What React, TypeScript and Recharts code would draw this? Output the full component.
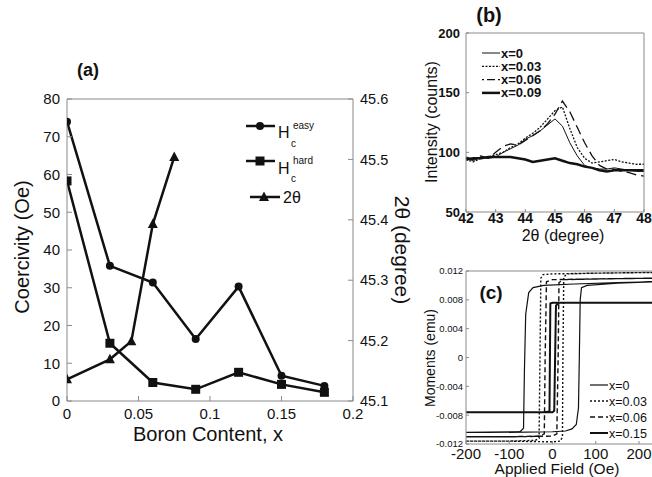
import React from "react"
import { Legend, Line, LineChart, XAxis, YAxis } from "recharts"

// (a) coercivity and 2θ peak vs boron content
const boron = [0, 0.03, 0.06, 0.09, 0.12, 0.15, 0.18]
const hcEasy = [74, 35.8, 31.4, 16.4, 30.3, 6.7, 4.0]
const hcHard = [58.3, 15.3, 4.9, 3.1, 7.6, 4.4, 2.3]
const boronTheta = [0, 0.03, 0.045, 0.06, 0.075]
const peakTheta = [45.136, 45.169, 45.199, 45.393, 45.504]
const boronTicks = [0, 0.05, 0.1, 0.15, 0.2]
const coerTicks = [0, 10, 20, 30, 40, 50, 60, 70, 80]
const thetaTicks = [45.1, 45.2, 45.3, 45.4, 45.5, 45.6]

// (b) XRD scans
const twoTheta = [42, 42.25, 42.5, 42.75, 43, 43.25, 43.5, 43.75, 44, 44.25, 44.5, 44.75, 45, 45.25, 45.5, 45.75, 46, 46.25, 46.5, 46.75, 47, 47.25, 47.5, 47.75, 48]
const int0 = [95, 93, 96, 95, 96, 100, 103, 106, 111, 114, 118, 123, 128, 122, 108, 97, 89, 87, 86, 86, 87, 86, 85, 84, 84]
const int003 = [94, 92, 95, 96, 98, 100, 104, 107, 112, 116, 121, 128, 135, 138, 120, 104, 95, 91, 92, 93, 94, 92, 91, 90, 90]
const int006 = [96, 94, 97, 95, 100, 105, 107, 106, 110, 114, 118, 124, 132, 143, 134, 121, 108, 97, 89, 86, 86, 84, 83, 81, 80]
const int009 = [94, 95, 95, 96, 96, 96, 96, 95, 94, 92, 93, 94, 95, 93, 91, 90, 88, 87, 85, 84, 85, 85, 85, 85, 85]
const thetaMinor = [42, 42.25, 42.5, 42.75, 43, 43.25, 43.5, 43.75, 44, 44.25, 44.5, 44.75, 45, 45.25, 45.5, 45.75, 46, 46.25, 46.5, 46.75, 47, 47.25, 47.5, 47.75, 48]
const thetaMajor = [42, 43, 44, 45, 46, 47, 48]
const intTicks = [50, 100, 150, 200]

// (c) hysteresis loops (field Oe, moment emu), lower branch then upper branch
const field0 = [-200, -100, 0, 30, 45, 55, 60, 62, 64, 67, 80, 150, 230, 230, 150, 50, -20, -45, -55, -62, -65, -67, -75, -200]
const moment0 = [-0.0104, -0.0104, -0.0103, -0.0102, -0.0099, -0.0093, -0.007, 0, 0.008, 0.0097, 0.01, 0.0103, 0.0105, 0.0105, 0.0104, 0.0102, 0.01, 0.0097, 0.009, 0.006, -0.002, -0.0098, -0.0103, -0.0104]
const field003 = [-200, -100, 0, 18, 23, 24, 26, 35, 100, 230, 230, 100, 0, -22, -27, -29, -31, -40, -100, -200]
const moment003 = [-0.0116, -0.0116, -0.0117, -0.0116, -0.011, 0, 0.0112, 0.0116, 0.0117, 0.0118, 0.0118, 0.0117, 0.0116, 0.0115, 0.011, 0, -0.0112, -0.0115, -0.0116, -0.0116]
const field006 = [-200, -100, 0, 10, 13, 15, 25, 100, 230, 230, 100, 0, -14, -17, -19, -30, -100, -200]
const moment006 = [-0.011, -0.011, -0.0109, -0.0106, 0, 0.0104, 0.0108, 0.0109, 0.011, 0.011, 0.0109, 0.0108, 0.0105, 0, -0.0106, -0.0109, -0.011, -0.011]
const field015 = [-200, -100, 0, 4, 6, 8, 15, 100, 230, 230, 100, 0, -5, -6, -7, -20, -100, -200]
const moment015 = [-0.0076, -0.0076, -0.0076, -0.0074, 0, 0.0072, 0.0076, 0.0076, 0.0076, 0.0076, 0.0076, 0.0076, 0.0075, 0, -0.0075, -0.0076, -0.0076, -0.0076]
const fieldTicks = [-200, -100, 0, 100, 200]
const fieldMinor = [-200, -150, -100, -50, 0, 50, 100, 150, 200]
const momentTicks = [-0.012, -0.008, -0.004, 0, 0.004, 0.008, 0.012]

const zip = (xs: number[], ys: number[]) => xs.map((x, i) => ({ x, y: ys[i] }))

const easyData = zip(boron, hcEasy)
const hardData = zip(boron, hcHard)
const thetaData = zip(boronTheta, peakTheta)
const xrdData = twoTheta.map((t, i) => ({ t, a: int0[i], b: int003[i], c: int006[i], d: int009[i] }))
const loop0 = zip(field0, moment0)
const loop003 = zip(field003, moment003)
const loop006 = zip(field006, moment006)
const loop015 = zip(field015, moment015)

const INK = "#111"
const AXIS = "#8a8a8a"

const dotCircle = (p: any) => <circle key={`c${p.index}`} cx={p.cx} cy={p.cy} r={4} fill={INK} />
const dotSquare = (p: any) => (
  <rect key={`s${p.index}`} x={p.cx - 4.5} y={p.cy - 4.5} width={9} height={9} fill={INK} />
)
const dotTriangle = (p: any) => (
  <polygon
    key={`t${p.index}`}
    points={`${p.cx},${p.cy - 5.5} ${p.cx - 5},${p.cy + 4} ${p.cx + 5},${p.cy + 4}`}
    fill={INK}
  />
)

function LegendA() {
  return (
    <svg width={100} height={95} style={{ display: "block", overflow: "visible" }}>
      <line x1={6} y1={11} x2={35} y2={11} stroke={INK} strokeWidth={2.5} />
      <circle cx={20} cy={11} r={4} fill={INK} />
      <text x={38} y={23} fontSize={16} fill={INK}>H</text>
      <text x={51} y={32} fontSize={10} fill={INK}>c</text>
      <text x={53} y={14} fontSize={10} fill={INK}>easy</text>
      <line x1={6} y1={46} x2={35} y2={46} stroke={INK} strokeWidth={2.5} />
      <rect x={15.5} y={41.5} width={9} height={9} fill={INK} />
      <text x={38} y={59} fontSize={16} fill={INK}>H</text>
      <text x={51} y={67} fontSize={10} fill={INK}>c</text>
      <text x={53} y={49} fontSize={10} fill={INK}>hard</text>
      <line x1={10} y1={82} x2={40} y2={82} stroke={INK} strokeWidth={2.5} />
      <polygon points="24,76.5 19,86 29,86" fill={INK} />
      <text x={43} y={88} fontSize={16} fill={INK}>2θ</text>
    </svg>
  )
}

const xrdStyles = [
  { label: "x=0", width: 1, dash: undefined },
  { label: "x=0.03", width: 1.3, dash: "2 1.5" },
  { label: "x=0.06", width: 1.3, dash: "2 3 8 3" },
  { label: "x=0.09", width: 2.5, dash: undefined },
]

function LegendB() {
  return (
    <svg width={100} height={56} style={{ display: "block", overflow: "visible" }}>
      {xrdStyles.map((s, i) => {
        const y = 8 + i * 13.3
        return (
          <g key={s.label}>
            <line x1={4} y1={y} x2={22} y2={y} stroke={INK} strokeWidth={s.width} strokeDasharray={s.dash} />
            <text x={23} y={y + 4.5} fontSize={13} fontWeight="bold" fill={INK}>{s.label}</text>
          </g>
        )
      })}
    </svg>
  )
}

const loopStyles = [
  { label: "x=0", width: 1.2, dash: undefined },
  { label: "x=0.03", width: 1.4, dash: "2 2" },
  { label: "x=0.06", width: 1.4, dash: "5 3" },
  { label: "x=0.15", width: 2, dash: undefined },
]

function LegendC() {
  return (
    <svg width={66} height={66} style={{ display: "block", overflow: "visible" }}>
      {loopStyles.map((s, i) => {
        const y = 9 + i * 16
        return (
          <g key={s.label}>
            <line x1={4} y1={y} x2={22} y2={y} stroke={INK} strokeWidth={s.width} strokeDasharray={s.dash} />
            <text x={23} y={y + 4.5} fontSize={12.5} fill={INK}>{s.label}</text>
          </g>
        )
      })}
    </svg>
  )
}

function Title({ x, y, size, text, rotate = 0, bold = false }: any) {
  return (
    <div
      style={{
        position: "absolute",
        left: x,
        top: y,
        transform: `translate(-50%, -50%) rotate(${rotate}deg)`,
        fontSize: size,
        fontWeight: bold ? "bold" : "normal",
        whiteSpace: "nowrap",
        lineHeight: 1,
        color: INK,
      }}
    >
      {text}
    </div>
  )
}

const fmtMoment = (v: number) => (v === 0 ? "0" : String(v))
const blank = () => ""

export default function App() {
  return (
    <div
      style={{
        position: "absolute",
        left: 0,
        top: 0,
        width: 652,
        height: 477,
        background: "#fff",
        overflow: "hidden",
        fontFamily: '"Liberation Sans", Arial, sans-serif',
      }}
    >
      {/* (a) */}
      <div style={{ position: "absolute", left: 0, top: 0 }}>
        <LineChart width={430} height={450} margin={{ top: 98, right: 0, bottom: 0, left: 0 }}>
          <XAxis
            xAxisId="bottom"
            dataKey="x"
            type="number"
            domain={[0, 0.2]}
            ticks={boronTicks}
            interval={0}
            height={49}
            tickSize={-5}
            tickMargin={12}
            stroke={AXIS}
            tick={{ fontSize: 15, fill: INK }}
            allowDataOverflow
          />
          <XAxis
            xAxisId="top"
            orientation="top"
            type="number"
            domain={[0, 0.2]}
            ticks={boronTicks}
            interval={0}
            height={1}
            tickSize={-5}
            tickFormatter={blank}
            stroke={AXIS}
            allowDataOverflow
          />
          <YAxis
            yAxisId="left"
            type="number"
            domain={[0, 80]}
            ticks={coerTicks}
            interval={0}
            width={67}
            tickSize={-5}
            tickMargin={12}
            stroke={AXIS}
            tick={{ fontSize: 15, fill: INK }}
          />
          <YAxis
            yAxisId="right"
            orientation="right"
            type="number"
            domain={[45.1, 45.6]}
            ticks={thetaTicks}
            interval={0}
            width={77}
            tickSize={-5}
            tickMargin={12}
            stroke={AXIS}
            tick={{ fontSize: 14.5, fill: INK }}
          />
          <Line data={easyData} xAxisId="bottom" yAxisId="left" dataKey="y" stroke={INK} strokeWidth={2.5} dot={dotCircle} activeDot={false} isAnimationActive={false} />
          <Line data={hardData} xAxisId="bottom" yAxisId="left" dataKey="y" stroke={INK} strokeWidth={2.5} dot={dotSquare} activeDot={false} isAnimationActive={false} />
          <Line data={thetaData} xAxisId="bottom" yAxisId="right" dataKey="y" stroke={INK} strokeWidth={2.5} dot={dotTriangle} activeDot={false} isAnimationActive={false} />
          <Legend
            layout="vertical"
            align="center"
            verticalAlign="middle"
            content={() => <LegendA />}
            wrapperStyle={{ left: 240, top: 115, width: 100, height: 95 }}
          />
        </LineChart>
      </div>

      {/* (b) */}
      <div style={{ position: "absolute", left: 400, top: 0 }}>
        <LineChart width={252} height={240} data={xrdData} margin={{ top: 32, right: 7, bottom: 0, left: 0 }}>
          <XAxis
            dataKey="t"
            type="number"
            domain={[42, 48]}
            ticks={thetaMajor}
            interval={0}
            height={28}
            tickSize={-3}
            tickMargin={4}
            stroke={AXIS}
            tick={{ fontSize: 14, fill: INK, fontWeight: "bold" }}
          />
          <XAxis
            xAxisId="top"
            orientation="top"
            type="number"
            domain={[42, 48]}
            ticks={thetaMinor}
            interval={0}
            height={1}
            tickSize={-3}
            tickFormatter={blank}
            stroke={AXIS}
            allowDataOverflow
          />
          <YAxis
            type="number"
            domain={[50, 200]}
            ticks={intTicks}
            interval={0}
            width={66}
            tickSize={-3}
            tickMargin={9}
            stroke={AXIS}
            tick={{ fontSize: 13, fill: INK, fontWeight: "bold" }}
          />
          <YAxis
            yAxisId="r"
            orientation="right"
            type="number"
            domain={[50, 200]}
            ticks={intTicks}
            interval={0}
            width={1}
            tickSize={-3}
            tickFormatter={blank}
            stroke={AXIS}
          />
          <Line dataKey="a" stroke={INK} strokeWidth={xrdStyles[0].width} dot={false} activeDot={false} isAnimationActive={false} />
          <Line dataKey="b" stroke={INK} strokeWidth={xrdStyles[1].width} strokeDasharray={xrdStyles[1].dash} dot={false} activeDot={false} isAnimationActive={false} />
          <Line dataKey="c" stroke={INK} strokeWidth={xrdStyles[2].width} strokeDasharray="10 5" dot={false} activeDot={false} isAnimationActive={false} />
          <Line dataKey="d" stroke={INK} strokeWidth={xrdStyles[3].width} dot={false} activeDot={false} isAnimationActive={false} />
          <Legend
            layout="vertical"
            align="center"
            verticalAlign="middle"
            content={() => <LegendB />}
            wrapperStyle={{ left: 78, top: 45, width: 100, height: 56 }}
          />
        </LineChart>
      </div>

      {/* (c) */}
      <div style={{ position: "absolute", left: 400, top: 250 }}>
        <LineChart width={252} height={227} margin={{ top: 20, right: 0, bottom: 0, left: 0 }}>
          <XAxis
            dataKey="x"
            type="number"
            domain={[-200, 230]}
            ticks={fieldTicks}
            interval={0}
            height={33}
            tickSize={-3}
            tickMargin={7}
            stroke={AXIS}
            tick={{ fontSize: 15, fill: INK }}
            allowDataOverflow
          />
          <XAxis
            xAxisId="top"
            orientation="top"
            type="number"
            domain={[-200, 230]}
            ticks={fieldMinor}
            interval={0}
            height={1}
            tickSize={-3}
            tickFormatter={blank}
            stroke={AXIS}
            allowDataOverflow
          />
          <YAxis
            type="number"
            domain={[-0.012, 0.012]}
            ticks={momentTicks}
            interval={0}
            width={66}
            tickSize={-3}
            tickMargin={6}
            tickFormatter={fmtMoment}
            stroke={AXIS}
            tick={{ fontSize: 9.5, fill: INK }}
          />
          <Line data={loop0} dataKey="y" stroke={INK} strokeWidth={loopStyles[0].width} dot={false} activeDot={false} isAnimationActive={false} />
          <Line data={loop003} dataKey="y" stroke={INK} strokeWidth={loopStyles[1].width} strokeDasharray={loopStyles[1].dash} dot={false} activeDot={false} isAnimationActive={false} />
          <Line data={loop006} dataKey="y" stroke={INK} strokeWidth={loopStyles[2].width} strokeDasharray={loopStyles[2].dash} dot={false} activeDot={false} isAnimationActive={false} />
          <Line data={loop015} dataKey="y" stroke={INK} strokeWidth={loopStyles[3].width} dot={false} activeDot={false} isAnimationActive={false} />
          <Legend
            layout="vertical"
            align="center"
            verticalAlign="middle"
            content={() => <LegendC />}
            wrapperStyle={{ left: 186, top: 126, width: 66, height: 66 }}
          />
        </LineChart>
      </div>

      <Title x={88} y={70} size={18} text="(a)" bold />
      <Title x={22} y={247} size={20} text="Coercivity (Oe)" rotate={-90} />
      <Title x={208} y={434} size={20} text="Boron Content, x" />
      <Title x={402} y={250} size={21} text="2θ (degree)" rotate={90} />
      <Title x={489} y={15} size={20} text="(b)" bold />
      <Title x={432} y={122} size={16} text="Intensity (counts)" rotate={-90} />
      <Title x={563} y={236} size={16} text="2θ (degree)" />
      <Title x={491} y={292} size={19} text="(c)" bold />
      <Title x={430} y={358} size={14} text="Moments (emu)" rotate={-90} />
      <Title x={557} y={469} size={15.5} text="Applied Field (Oe)" />
    </div>
  )
}
